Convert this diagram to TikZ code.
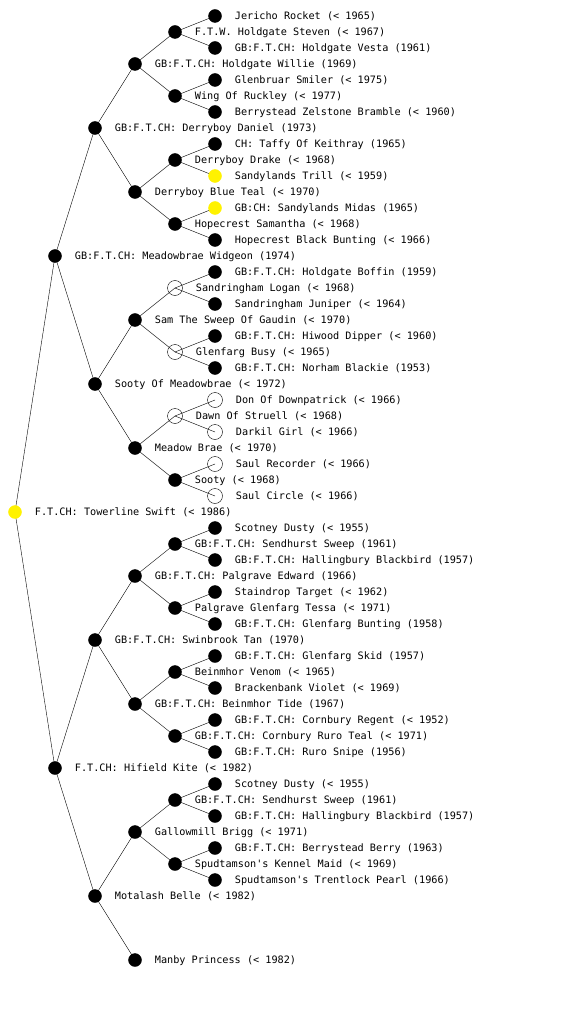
\documentclass[tikz,border=0pt]{standalone}
\usepackage{fontspec}
\setmonofont{DejaVu Sans Mono}
\usepackage{tikz}
\pgfdeclarelayer{bg}
\pgfsetlayers{bg,main}

\begin{document}
\begin{tikzpicture}[x=1pt,y=-1pt,
	dog/.style={circle,draw,fill=black,minimum size=13pt,inner sep=0pt},
	gold/.style={dog,draw=yellow,fill=yellow},
	open/.style={dog,fill=none,minimum size=15pt},
	every label/.style={font=\ttfamily\fontsize{10.2}{12}\selectfont,inner sep=0pt,text=black,xshift=13pt,yshift=-0.7pt}]
	\useasboundingbox (0,0) rectangle (560,1024);

	\node[gold] (p) at (15,512) [label=0:{F.T.CH: Towerline Swift (< 1986)}] {};

	\node[dog] (ps) at (55,256) [label=0:{GB:F.T.CH: Meadowbrae Widgeon (1974)}] {};
	\node[dog] (pd) at (55,768) [label=0:{F.T.CH: Hifield Kite (< 1982)}] {};

	\node[dog] (pss) at (95,128) [label=0:{GB:F.T.CH: Derryboy Daniel (1973)}] {};
	\node[dog] (psd) at (95,384) [label=0:{Sooty Of Meadowbrae (< 1972)}] {};
	\node[dog] (pds) at (95,640) [label=0:{GB:F.T.CH: Swinbrook Tan (1970)}] {};
	\node[dog] (pdd) at (95,896) [label=0:{Motalash Belle (< 1982)}] {};

	\node[dog] (psss) at (135,64) [label=0:{GB:F.T.CH: Holdgate Willie (1969)}] {};
	\node[dog] (pssd) at (135,192) [label=0:{Derryboy Blue Teal (< 1970)}] {};
	\node[dog] (psds) at (135,320) [label=0:{Sam The Sweep Of Gaudin (< 1970)}] {};
	\node[dog] (psdd) at (135,448) [label=0:{Meadow Brae (< 1970)}] {};
	\node[dog] (pdss) at (135,576) [label=0:{GB:F.T.CH: Palgrave Edward (1966)}] {};
	\node[dog] (pdsd) at (135,704) [label=0:{GB:F.T.CH: Beinmhor Tide (1967)}] {};
	\node[dog] (pdds) at (135,832) [label=0:{Gallowmill Brigg (< 1971)}] {};
	\node[dog] (pddd) at (135,960) [label=0:{Manby Princess (< 1982)}] {};

	\node[dog] (pssss) at (175,32) [label=0:{F.T.W. Holdgate Steven (< 1967)}] {};
	\node[dog] (psssd) at (175,96) [label=0:{Wing Of Ruckley (< 1977)}] {};
	\node[dog] (pssds) at (175,160) [label=0:{Derryboy Drake (< 1968)}] {};
	\node[dog] (pssdd) at (175,224) [label=0:{Hopecrest Samantha (< 1968)}] {};
	\node[open] (psdss) at (175,288) [label=0:{Sandringham Logan (< 1968)}] {};
	\node[open] (psdsd) at (175,352) [label=0:{Glenfarg Busy (< 1965)}] {};
	\node[open] (psdds) at (175,416) [label=0:{Dawn Of Struell (< 1968)}] {};
	\node[dog] (psddd) at (175,480) [label=0:{Sooty (< 1968)}] {};
	\node[dog] (pdsss) at (175,544) [label=0:{GB:F.T.CH: Sendhurst Sweep (1961)}] {};
	\node[dog] (pdssd) at (175,608) [label=0:{Palgrave Glenfarg Tessa (< 1971)}] {};
	\node[dog] (pdsds) at (175,672) [label=0:{Beinmhor Venom (< 1965)}] {};
	\node[dog] (pdsdd) at (175,736) [label=0:{GB:F.T.CH: Cornbury Ruro Teal (< 1971)}] {};
	\node[dog] (pddss) at (175,800) [label=0:{GB:F.T.CH: Sendhurst Sweep (1961)}] {};
	\node[dog] (pddsd) at (175,864) [label=0:{Spudtamson's Kennel Maid (< 1969)}] {};

	\node[dog] (psssss) at (215,16) [label=0:{Jericho Rocket (< 1965)}] {};
	\node[dog] (pssssd) at (215,48) [label=0:{GB:F.T.CH: Holdgate Vesta (1961)}] {};
	\node[dog] (psssds) at (215,80) [label=0:{Glenbruar Smiler (< 1975)}] {};
	\node[dog] (psssdd) at (215,112) [label=0:{Berrystead Zelstone Bramble (< 1960)}] {};
	\node[dog] (pssdss) at (215,144) [label=0:{CH: Taffy Of Keithray (1965)}] {};
	\node[gold] (pssdsd) at (215,176) [label=0:{Sandylands Trill (< 1959)}] {};
	\node[gold] (pssdds) at (215,208) [label=0:{GB:CH: Sandylands Midas (1965)}] {};
	\node[dog] (pssddd) at (215,240) [label=0:{Hopecrest Black Bunting (< 1966)}] {};
	\node[dog] (psdsss) at (215,272) [label=0:{GB:F.T.CH: Holdgate Boffin (1959)}] {};
	\node[dog] (psdssd) at (215,304) [label=0:{Sandringham Juniper (< 1964)}] {};
	\node[dog] (psdsds) at (215,336) [label=0:{GB:F.T.CH: Hiwood Dipper (< 1960)}] {};
	\node[dog] (psdsdd) at (215,368) [label=0:{GB:F.T.CH: Norham Blackie (1953)}] {};
	\node[open] (psddss) at (215,400) [label=0:{Don Of Downpatrick (< 1966)}] {};
	\node[open] (psddsd) at (215,432) [label=0:{Darkil Girl (< 1966)}] {};
	\node[open] (psddds) at (215,464) [label=0:{Saul Recorder (< 1966)}] {};
	\node[open] (psdddd) at (215,496) [label=0:{Saul Circle (< 1966)}] {};
	\node[dog] (pdssss) at (215,528) [label=0:{Scotney Dusty (< 1955)}] {};
	\node[dog] (pdsssd) at (215,560) [label=0:{GB:F.T.CH: Hallingbury Blackbird (1957)}] {};
	\node[dog] (pdssds) at (215,592) [label=0:{Staindrop Target (< 1962)}] {};
	\node[dog] (pdssdd) at (215,624) [label=0:{GB:F.T.CH: Glenfarg Bunting (1958)}] {};
	\node[dog] (pdsdss) at (215,656) [label=0:{GB:F.T.CH: Glenfarg Skid (1957)}] {};
	\node[dog] (pdsdsd) at (215,688) [label=0:{Brackenbank Violet (< 1969)}] {};
	\node[dog] (pdsdds) at (215,720) [label=0:{GB:F.T.CH: Cornbury Regent (< 1952)}] {};
	\node[dog] (pdsddd) at (215,752) [label=0:{GB:F.T.CH: Ruro Snipe (1956)}] {};
	\node[dog] (pddsss) at (215,784) [label=0:{Scotney Dusty (< 1955)}] {};
	\node[dog] (pddssd) at (215,816) [label=0:{GB:F.T.CH: Hallingbury Blackbird (1957)}] {};
	\node[dog] (pddsds) at (215,848) [label=0:{GB:F.T.CH: Berrystead Berry (1963)}] {};
	\node[dog] (pddsdd) at (215,880) [label=0:{Spudtamson's Trentlock Pearl (1966)}] {};

	\begin{pgfonlayer}{bg}
		\foreach \n in {p,ps,pd,pss,psd,pds,pdd,psss,pssd,psds,psdd,pdss,pdsd,pdds,
			pssss,psssd,pssds,pssdd,psdss,psdsd,psdds,psddd,pdsss,pdssd,pdsds,pdsdd,pddss,pddsd}
		{
			\draw (\n.center) -- (\n s.center);
			\draw (\n.center) -- (\n d.center);
		}
	\end{pgfonlayer}
\end{tikzpicture}
\end{document}
